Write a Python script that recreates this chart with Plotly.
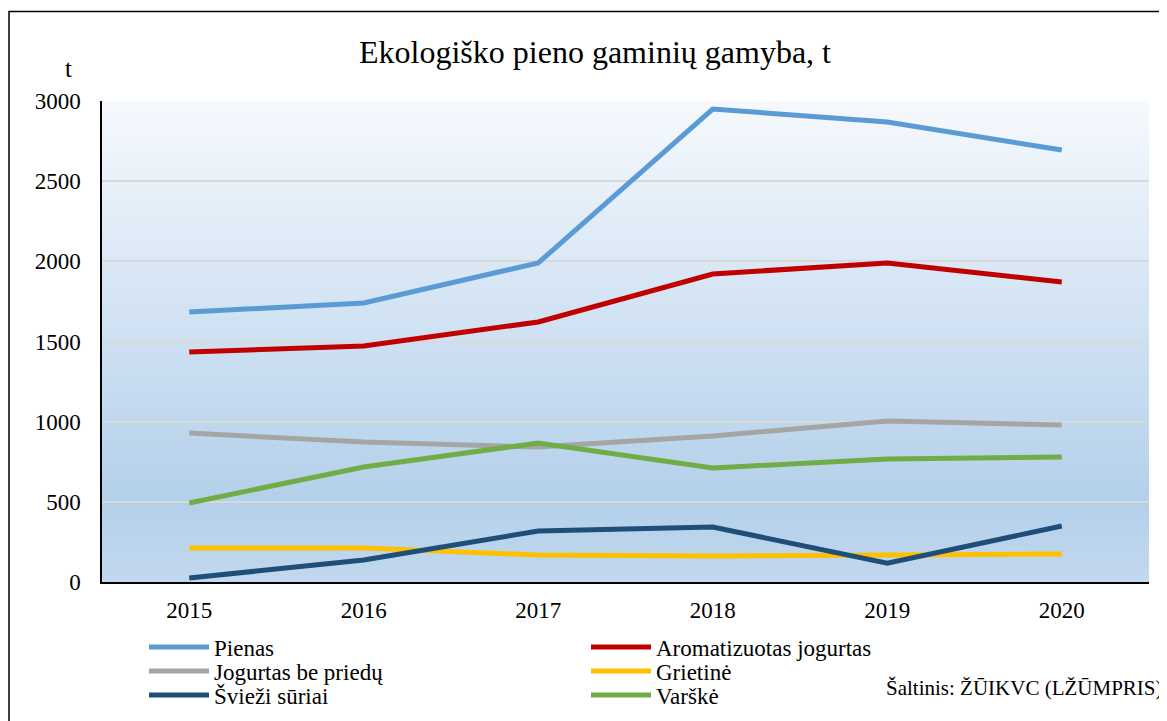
import plotly.graph_objects as go

years = ["2015", "2016", "2017", "2018", "2019", "2020"]

pienas = [1684, 1740, 1990, 2950, 2869, 2694]
aromatizuotas = [1434, 1472, 1622, 1921, 1990, 1871]
jogurtas = [929, 873, 842, 911, 1004, 979]
grietine = [212, 212, 168, 162, 168, 175]
svieziai = [25, 137, 318, 343, 118, 349]
varske = [493, 717, 867, 711, 767, 780]

series = [
    ("Pienas", pienas, "#5b9bd5"),
    ("Aromatizuotas jogurtas", aromatizuotas, "#c00000"),
    ("Jogurtas be priedų", jogurtas, "#a5a5a5"),
    ("Grietinė", grietine, "#ffc000"),
    ("Švieži sūriai", svieziai, "#1f4e79"),
    ("Varškė", varske, "#70ad47"),
]

# the page body adds an 8px margin, so the figure is 8px smaller
W, H = 1159, 713
L, R, T, B = 94, 18, 93, 139
pw, ph = W - L - R, H - T - B


def px(x):
    return (x - L) / pw


def py(y):
    return (H - B - y) / ph


serif = "Liberation Serif"

fig = go.Figure()
legend_names = ["legend", "legend2", "legend3", "legend4", "legend5", "legend6"]
for (name, vals, color), lg in zip(series, legend_names):
    fig.add_trace(go.Scatter(
        x=years, y=vals, name=name, mode="lines",
        line=dict(color=color, width=5),
        legend=lg, showlegend=True,
    ))

# gradient background of the plot area (top white -> light blue)
stops = [(0.0, (194, 216, 238)), (0.17, (180, 208, 234)), (0.5, (205, 224, 242)),
         (1.0, (246, 249, 253))]


def interp(t):
    for (t0, c0), (t1, c1) in zip(stops[:-1], stops[1:]):
        if t0 <= t <= t1:
            f = (t - t0) / (t1 - t0)
            return "rgb(%d,%d,%d)" % tuple(round(a + (b - a) * f) for a, b in zip(c0, c1))
    return "rgb(246,249,253)"


shapes = []
n = 80
for i in range(n):
    shapes.append(dict(
        type="rect", xref="x domain", yref="y domain",
        x0=0, x1=1, y0=i / n, y1=min(1, (i + 1.6) / n),
        fillcolor=interp((i + 0.5) / n), line=dict(width=0), layer="below",
    ))
# outer frame
shapes.append(dict(
    type="rect", xref="paper", yref="paper",
    x0=px(1), x1=px(1180), y0=py(3.5), y1=py(740),
    line=dict(color="black", width=1.5), fillcolor="rgba(0,0,0,0)",
))

legend_font = dict(family=serif, size=23, color="black")
legend_pos = [(136, 639), (578, 639), (136, 663), (578, 663), (136, 687), (578, 687)]
legends = {}
for lg, (lx, ly) in zip(legend_names, legend_pos):
    legends[lg] = dict(
        x=px(lx), y=py(ly), xanchor="left", yanchor="middle",
        orientation="v", bgcolor="rgba(0,0,0,0)",
        font=legend_font, itemwidth=60,
    )

fig.update_layout(
    width=W, height=H,
    showlegend=True,
    margin=dict(l=L, r=R, t=T, b=B, autoexpand=False),
    paper_bgcolor="white",
    plot_bgcolor="rgba(0,0,0,0)",
    font=dict(family=serif, color="black", size=20),
    title=dict(
        text="Ekologiško pieno gaminių gamyba, t",
        x=587 / W, xanchor="center", y=1 - 44 / H, yanchor="middle",
        font=dict(family=serif, size=32, color="black"),
    ),
    shapes=shapes,
    xaxis=dict(
        range=[-0.5, 5.5], showgrid=False, showline=True, linecolor="black",
        linewidth=1.5, ticks="", automargin=False,
        tickfont=dict(family=serif, size=23, color="black"), ticklabelstandoff=7,
    ),
    yaxis=dict(
        range=[0, 3000], dtick=500, showgrid=True, gridcolor="#d9d9d9",
        gridwidth=1.5, showline=True, linecolor="black", linewidth=1.5,
        ticks="", zeroline=False, ticklabelstandoff=15, automargin=False,
        tickfont=dict(family=serif, size=23, color="black"),
    ),
    annotations=[
        dict(text="t", xref="paper", yref="paper", x=px(60), y=py(60),
             xanchor="center", yanchor="middle", showarrow=False,
             font=dict(family=serif, size=25, color="black")),
        dict(text="Šaltinis: ŽŪIKVC (LŽŪMPRIS)", xref="paper", yref="paper",
             x=px(1157), y=py(680), xanchor="right", yanchor="middle",
             showarrow=False, font=dict(family=serif, size=21, color="black")),
    ],
    **legends,
)

fig.write_html("out.html")
